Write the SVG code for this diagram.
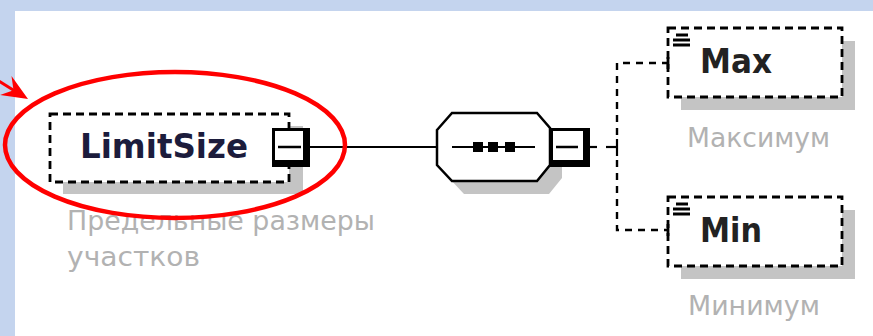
<svg xmlns="http://www.w3.org/2000/svg" width="873" height="336" viewBox="0 0 873 336">
<style>
.dash{fill:#fff;stroke:#000;stroke-width:2.8;stroke-dasharray:8 5}
.shadow{fill:#c4c4c4}
.conn{fill:none;stroke:#000;stroke-width:2.2}
.dconn{fill:none;stroke:#000;stroke-width:2.4;stroke-dasharray:7 6}
.name{font-family:"DejaVu Sans","Liberation Sans",sans-serif;font-weight:bold}
.desc{font-family:"DejaVu Sans","Liberation Sans",sans-serif;fill:#b2b2b2;font-size:26px}
</style>
<rect x="0" y="0" width="873" height="336" fill="#c4d4ee"/>
<rect x="15" y="11" width="858" height="325" fill="#fff"/>

<g id="connectors">
  <line class="conn" x1="310" y1="147" x2="437" y2="147"/>
  <line class="conn" x1="590" y1="147" x2="597" y2="147"/>
  <line class="conn" x1="606" y1="147" x2="617" y2="147"/>
  <line class="conn" x1="617" y1="139" x2="617" y2="156"/>
  <path class="dconn" d="M617,135 V63 H667"/>
  <path class="dconn" d="M617,160 V230 H667"/>
</g>

<g id="LimitSize">
  <rect class="shadow" x="63" y="126" width="240" height="68"/>
  <rect class="dash" x="50" y="114" width="239" height="68"/>
  <text class="name" x="80" y="158" font-size="34" fill="#1c1c3c" textLength="168" lengthAdjust="spacingAndGlyphs">LimitSize</text>
  <rect x="272" y="128" width="38" height="39" fill="#000"/>
  <rect x="275" y="131" width="28" height="29" fill="#fff"/>
  <line x1="278" y1="147" x2="301" y2="147" stroke="#000" stroke-width="2.5"/>
  <text class="desc" x="67" y="230" textLength="308" lengthAdjust="spacingAndGlyphs">Предельные размеры</text>
  <text class="desc" x="67" y="266" textLength="133" lengthAdjust="spacingAndGlyphs">участков</text>
</g>

<g id="sequence">
  <polygon class="shadow" points="449,143 464,126 549,126 562,141 562,178 549,194 464,194 449,178"/>
  <polygon points="437,130 452,113 537,113 550,128 550,165 537,181 452,181 437,165" fill="#fff" stroke="#000" stroke-width="2.5"/>
  <line x1="452" y1="147" x2="535" y2="147" stroke="#000" stroke-width="2.2"/>
  <rect x="473" y="142" width="10" height="10" fill="#000"/>
  <rect x="488" y="142" width="10" height="10" fill="#000"/>
  <rect x="505" y="142" width="10" height="10" fill="#000"/>
  <rect x="550" y="128" width="40" height="39" fill="#000"/>
  <rect x="553" y="131" width="30" height="29" fill="#fff"/>
  <line x1="556" y1="147" x2="578" y2="147" stroke="#000" stroke-width="2.5"/>
</g>

<g id="Max">
  <rect class="shadow" x="681" y="41" width="174" height="69"/>
  <rect class="dash" x="668" y="28" width="174" height="69"/>
  <line x1="668" y1="57" x2="668" y2="69" stroke="#000" stroke-width="2.8"/>
  <g stroke="#000" stroke-width="3">
    <line x1="676" y1="35" x2="688" y2="35"/>
    <line x1="673" y1="40" x2="690" y2="40"/>
    <line x1="673" y1="45" x2="690" y2="45"/>
  </g>
  <text class="name" x="700" y="73" font-size="33" fill="#222" textLength="72" lengthAdjust="spacingAndGlyphs">Max</text>
  <text class="desc" x="687" y="147" textLength="143" lengthAdjust="spacingAndGlyphs">Максимум</text>
</g>

<g id="Min">
  <rect class="shadow" x="681" y="210" width="174" height="69"/>
  <rect class="dash" x="668" y="197" width="174" height="69"/>
  <line x1="668" y1="224" x2="668" y2="236" stroke="#000" stroke-width="2.8"/>
  <g stroke="#000" stroke-width="3">
    <line x1="676" y1="204" x2="688" y2="204"/>
    <line x1="673" y1="209" x2="690" y2="209"/>
    <line x1="673" y1="214" x2="690" y2="214"/>
  </g>
  <text class="name" x="700" y="242" font-size="33" fill="#222" textLength="62" lengthAdjust="spacingAndGlyphs">Min</text>
  <text class="desc" x="688" y="315" textLength="132" lengthAdjust="spacingAndGlyphs">Минимум</text>
</g>

<g id="highlight">
  <ellipse cx="175" cy="145" rx="170" ry="73" fill="none" stroke="#ff0000" stroke-width="4.5"/>
  <line x1="-3" y1="80" x2="14" y2="90.5" stroke="#ff0000" stroke-width="3"/>
  <polygon points="28,99 11.5,76.1 13.5,90.2 0.1,94.9" fill="#ff0000"/>
</g>
</svg>
